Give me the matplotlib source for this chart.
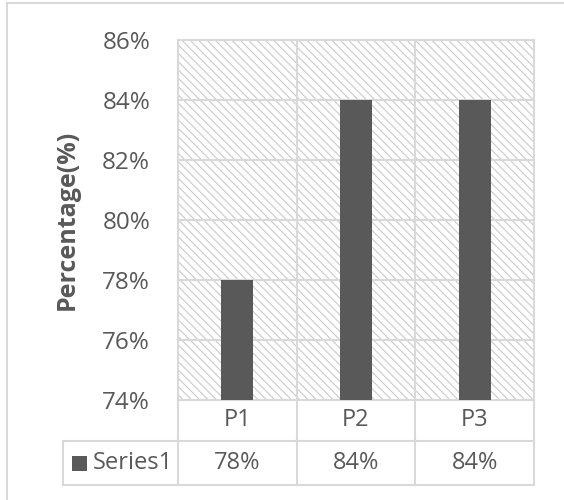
import numpy as np
import matplotlib
matplotlib.use("Agg")
import matplotlib.pyplot as plt
import matplotlib.patches as mpatches
import matplotlib.transforms as mtransforms
from matplotlib.lines import Line2D

# chart values
categories = ["P1", "P2", "P3"]
series_name = "Series1"
values = [78, 84, 84]
y_ticks = [74, 76, 78, 80, 82, 84, 86]

plt.rcParams["font.family"] = ["Open Sans", "DejaVu Sans"]
plt.rcParams["hatch.linewidth"] = 0.8

W, H = 564, 500
fig = plt.figure(figsize=(W / 100, H / 100), dpi=100)


def fx(px):
    return px / W


def fy(py):
    return 1 - py / H


grid_c = "#d9d9d9"
text_c = "#595959"
bar_c = "#595959"

ax = fig.add_axes([fx(178), fy(400), fx(534) - fx(178), fy(40) - fy(400)])
for s in ax.spines.values():
    s.set_visible(False)

# hatched plot background
ax.add_patch(mpatches.Rectangle((0, 0), 1, 1, transform=ax.transAxes,
                                facecolor="white", edgecolor="#cacaca",
                                hatch="\\\\\\\\", linewidth=0, zorder=0))

x = np.arange(len(categories))
ax.bar(x, values, width=0.27, color=bar_c, zorder=3)
ax.set_xlim(-0.5, len(categories) - 0.5)
ax.set_ylim(y_ticks[0], y_ticks[-1])
ax.set_yticks(y_ticks)
ax.set_yticklabels([f"{t}%" for t in y_ticks])
ax.set_xticks([])
ax.tick_params(axis="y", length=0, pad=20, labelsize=17.5, labelcolor=text_c)

# gridlines: horizontal at ticks, vertical at category boundaries
for t in y_ticks:
    ax.axhline(t, color=grid_c, lw=1.5, zorder=1, clip_on=False)
bounds = np.arange(-0.5, len(categories))

# data table under the plot
blend = mtransforms.blended_transform_factory(ax.transData, ax.transAxes)
r0, r1, r2 = 0.0, -41 / 360, -85 / 360
x_tab = (63 - 178) / 356

for b in bounds:
    ax.plot([b, b], [r2, 1], color=grid_c, lw=1.5, transform=blend,
            clip_on=False, zorder=2)
ax.plot([x_tab, 1], [r1, r1], color=grid_c, lw=1.5, transform=ax.transAxes,
        clip_on=False)
ax.plot([x_tab, 1], [r2, r2], color=grid_c, lw=1.5, transform=ax.transAxes,
        clip_on=False)
ax.plot([x_tab, x_tab], [r1, r2], color=grid_c, lw=1.5, transform=ax.transAxes,
        clip_on=False)

for xi, cat, v in zip(x, categories, values):
    ax.text(xi, (r0 + r1) / 2, cat, transform=blend, ha="center", va="center",
            fontsize=17, color=text_c)
    ax.text(xi, (r1 + r2) / 2, f"{v}%", transform=blend, ha="center",
            va="center", fontsize=17, color=text_c)

key_w = 15 / 356
key_h = 15 / 360
ax.add_patch(mpatches.Rectangle(((72 - 178) / 356, (r1 + r2) / 2 - key_h / 2),
                                key_w, key_h, transform=ax.transAxes,
                                facecolor=bar_c, edgecolor="none", clip_on=False))
ax.text((93 - 178) / 356, (r1 + r2) / 2, series_name, transform=ax.transAxes,
        ha="left", va="center", fontsize=17, color=text_c)

fig.text(fx(67), fy(220), "Percentage(%)", rotation=90, ha="center",
         va="center", fontsize=18, fontweight="bold", color=text_c)

# chart area border
fig.add_artist(Line2D([fx(7), fx(7)], [fy(3), 0], color=grid_c, lw=1.5))
fig.add_artist(Line2D([fx(7), 1], [fy(3), fy(3)], color=grid_c, lw=1.5))

fig.savefig("out.png", dpi=100)
